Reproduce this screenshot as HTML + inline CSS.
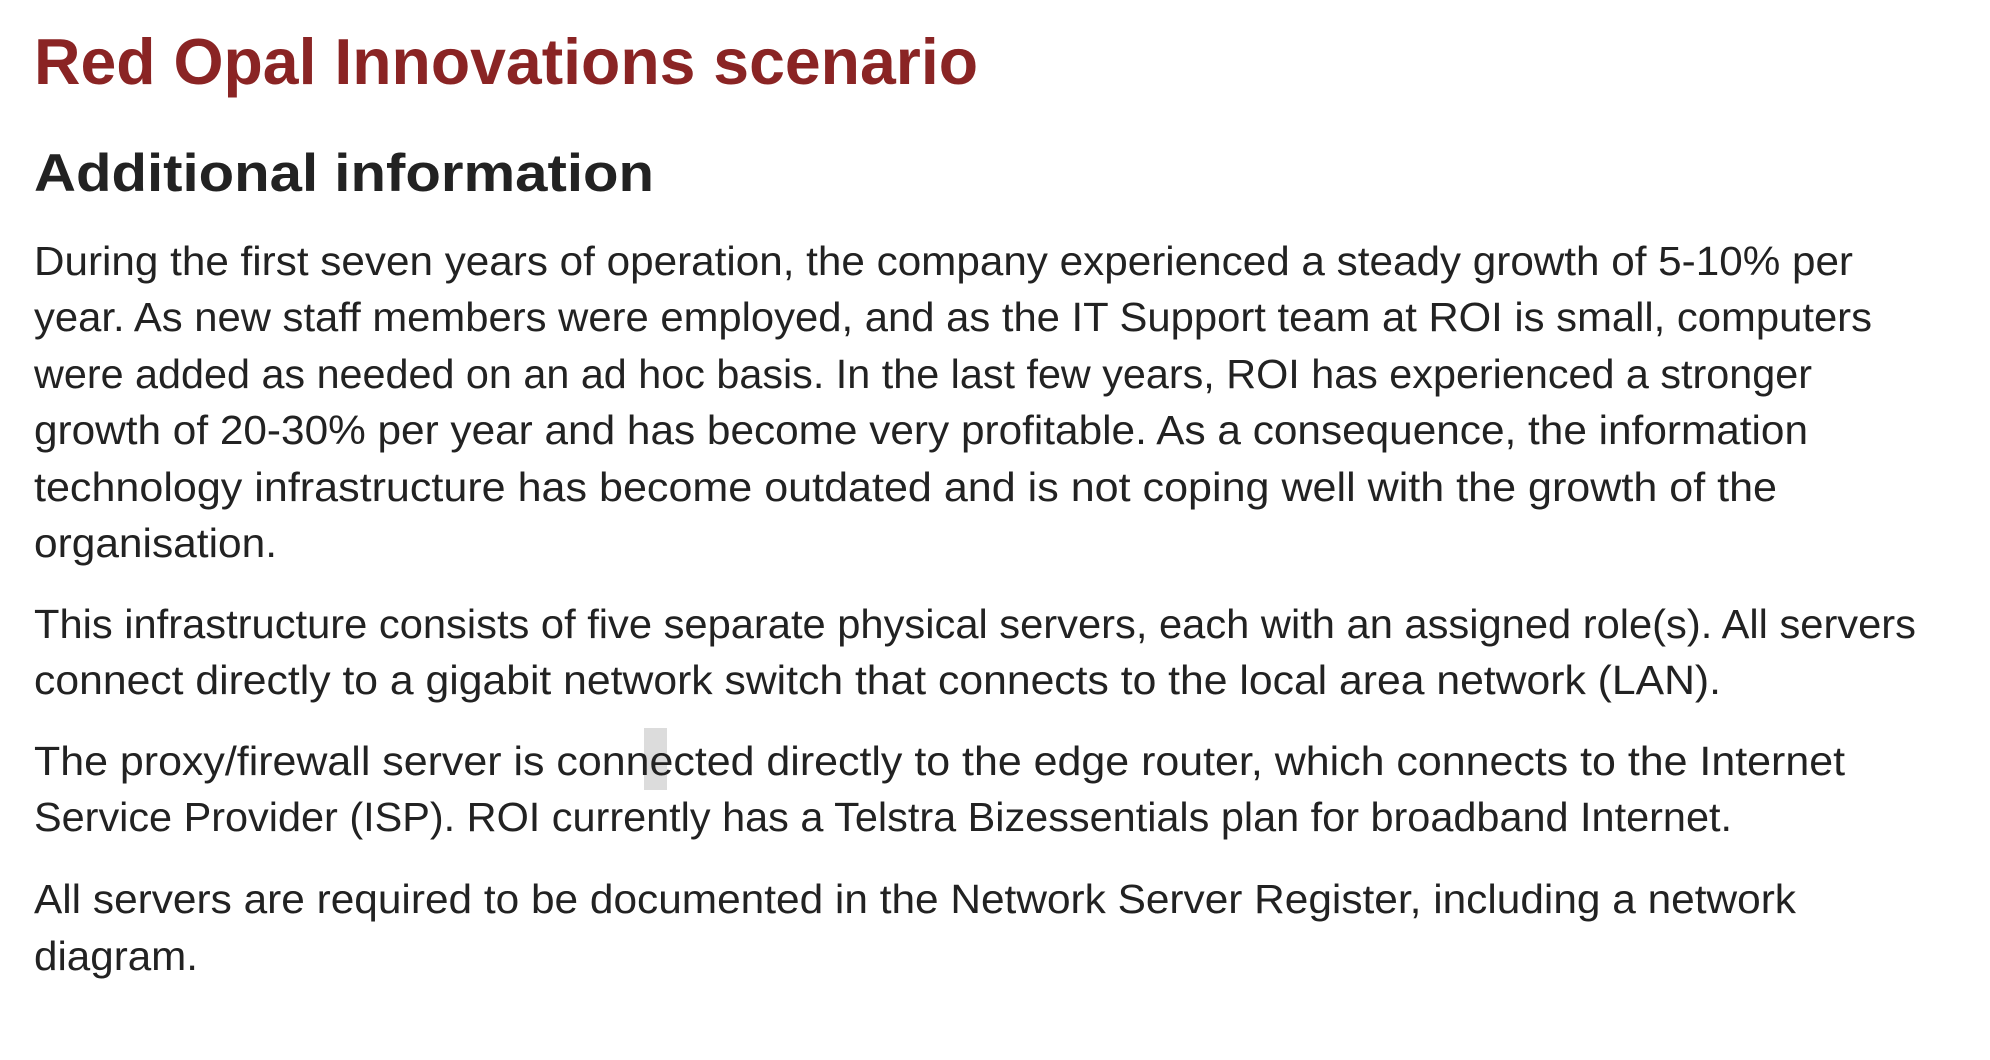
<!DOCTYPE html>
<html lang="en">
<head>
<meta charset="utf-8">
<title>Red Opal Innovations scenario</title>
<style>
html,body{margin:0;padding:0;background:#fff;width:1990px;height:1060px;overflow:hidden}
svg{display:block}
text{font-family:"Liberation Sans",sans-serif;fill:#222}
.b{font-size:41px}
</style>
</head>
<body>
<svg width="1990" height="1060" viewBox="0 0 1990 1060" xmlns="http://www.w3.org/2000/svg">
<rect width="1990" height="1060" fill="#fff"/>
<rect x="644" y="728" width="23" height="62" fill="#dcdcdc"/>
<text x="34" y="84" font-size="65" font-weight="700" style="fill:#8a2424" textLength="944" lengthAdjust="spacingAndGlyphs">Red Opal Innovations scenario</text>
<text x="34" y="191" font-size="53" font-weight="700" style="fill:#222" textLength="620" lengthAdjust="spacingAndGlyphs">Additional information</text>
<g class="b">
<text x="34" y="275" textLength="1819" lengthAdjust="spacingAndGlyphs">During the first seven years of operation, the company experienced a steady growth of 5-10% per</text>
<text x="34" y="331" textLength="1838" lengthAdjust="spacingAndGlyphs">year. As new staff members were employed, and as the IT Support team at ROI is small, computers</text>
<text x="34" y="388" textLength="1778" lengthAdjust="spacingAndGlyphs">were added as needed on an ad hoc basis. In the last few years, ROI has experienced a stronger</text>
<text x="34" y="444" textLength="1774" lengthAdjust="spacingAndGlyphs">growth of 20-30% per year and has become very profitable. As a consequence, the information</text>
<text x="34" y="501" textLength="1743" lengthAdjust="spacingAndGlyphs">technology infrastructure has become outdated and is not coping well with the growth of the</text>
<text x="34" y="557" textLength="243" lengthAdjust="spacingAndGlyphs">organisation.</text>
</g>
<g class="b">
<text x="34" y="638" textLength="1882" lengthAdjust="spacingAndGlyphs">This infrastructure consists of five separate physical servers, each with an assigned role(s). All servers</text>
<text x="34" y="694" textLength="1687" lengthAdjust="spacingAndGlyphs">connect directly to a gigabit network switch that connects to the local area network (LAN).</text>
</g>
<g class="b">
<text x="34" y="775" textLength="1811" lengthAdjust="spacingAndGlyphs">The proxy/firewall server is connected directly to the edge router, which connects to the Internet</text>
<text x="34" y="831" textLength="1698" lengthAdjust="spacingAndGlyphs">Service Provider (ISP). ROI currently has a Telstra Bizessentials plan for broadband Internet.</text>
</g>
<g class="b">
<text x="34" y="913" textLength="1762" lengthAdjust="spacingAndGlyphs">All servers are required to be documented in the Network Server Register, including a network</text>
<text x="34" y="970" textLength="164" lengthAdjust="spacingAndGlyphs">diagram.</text>
</g>
</svg>
</body>
</html>
